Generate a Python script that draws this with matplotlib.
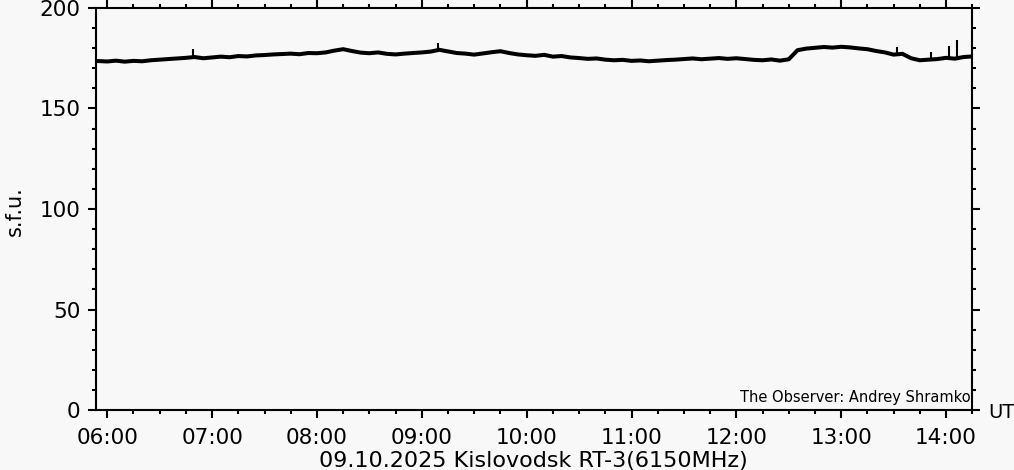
import numpy as np
import matplotlib
matplotlib.use("Agg")
import matplotlib.pyplot as plt
from matplotlib.ticker import MultipleLocator, FixedLocator

# ---- data (hours UT, s.f.u.) ----
start_hour = 5 + 55/60      # first sample 05:55, 5-minute cadence
step_hours = 5/60
flux = [
    173.6, 173.4, 173.8, 173.3, 173.7, 173.5, 174.0, 174.3, 174.6, 174.9, 175.2, 175.6,  # 05:55-06:50
    175.0, 175.4, 175.8, 175.5, 176.1, 175.9, 176.4, 176.6, 176.9, 177.1, 177.3, 177.0,  # 06:55-07:50
    177.6, 177.5, 177.9, 178.8, 179.5, 178.6, 177.8, 177.5, 177.9, 177.2, 176.9, 177.3,  # 07:55-08:50
    177.6, 177.9, 178.3, 179.2, 178.4, 177.6, 177.3, 176.8, 177.4, 178.0, 178.5, 177.6,  # 08:55-09:50
    176.9, 176.5, 176.2, 176.7, 175.8, 176.1, 175.4, 175.1, 174.7, 174.9, 174.3, 174.0,  # 09:55-10:50
    174.2, 173.7, 173.9, 173.5, 173.8, 174.1, 174.3, 174.6, 174.9, 174.5, 174.8, 175.1,  # 10:55-11:50
    174.7, 175.0, 174.6, 174.2, 174.0, 174.4, 173.8, 174.5, 179.0, 179.8, 180.2, 180.6,  # 11:55-12:50
    180.3, 180.7, 180.4, 179.9, 179.5, 178.6, 177.9, 176.8, 177.2, 175.0, 174.0, 174.3,  # 12:55-13:50
    174.6, 175.2, 174.8, 175.6, 175.9,                                                    # 13:55-14:15
]
spike_hours = [6.815, 9.156, 13.53, 13.86, 14.03, 14.10]
spike_base = [175.3, 178.0, 177.0, 174.5, 175.0, 175.0]
spike_peak = [179.6, 182.4, 180.7, 178.2, 181.2, 184.0]

x_major = [6, 7, 8, 9, 10, 11, 12, 13, 14]
x_labels = ["06:00", "07:00", "08:00", "09:00", "10:00", "11:00", "12:00", "13:00", "14:00"]
y_major = [0, 50, 100, 150, 200]

hours = start_hour + step_hours * np.arange(len(flux))

bg = "#f8f8f8"
fig = plt.figure(figsize=(10.14, 4.70), dpi=100, facecolor=bg)
ax = fig.add_axes([95.7/1014, 1 - 410/470, (972.3 - 95.7)/1014, (410 - 8)/470], facecolor=bg)

ax.plot(hours, flux, color="black", lw=2.9, solid_joinstyle="miter")
ax.vlines(spike_hours, spike_base, spike_peak, color="black", lw=1.5)

ax.set_xlim(5.89, 14.25)
ax.set_ylim(0, 200)

ax.xaxis.set_major_locator(FixedLocator(x_major))
ax.set_xticklabels(x_labels)
ax.xaxis.set_minor_locator(MultipleLocator(0.25))
ax.yaxis.set_major_locator(FixedLocator(y_major))
ax.yaxis.set_minor_locator(MultipleLocator(10))

for s in ax.spines.values():
    s.set_linewidth(1.5)
    s.set_color("black")

ax.tick_params(which="both", direction="out", top=True, right=True, width=1.5, colors="black",
               labelsize=15.5)
ax.tick_params(which="major", length=5.8)
ax.tick_params(which="minor", length=3.2)
ax.tick_params(axis="x", which="major", pad=7)
ax.tick_params(axis="y", which="major", pad=5)

fig.text(533/1014, 3/470, "09.10.2025 Kislovodsk RT-3(6150MHz)", ha="center", va="baseline",
         fontsize=16)
fig.text(988/1014, 1 - 413/470, "UT", ha="left", va="center", fontsize=14)
fig.text(15/1014, 1 - 211/470, "s.f.u.", ha="center", va="center", rotation=90, fontsize=15)
ax.text(0.998, 0.012, "The Observer: Andrey Shramko", transform=ax.transAxes, ha="right",
        va="bottom", fontsize=10.5)

fig.savefig("out.png", dpi=100, facecolor=bg)
